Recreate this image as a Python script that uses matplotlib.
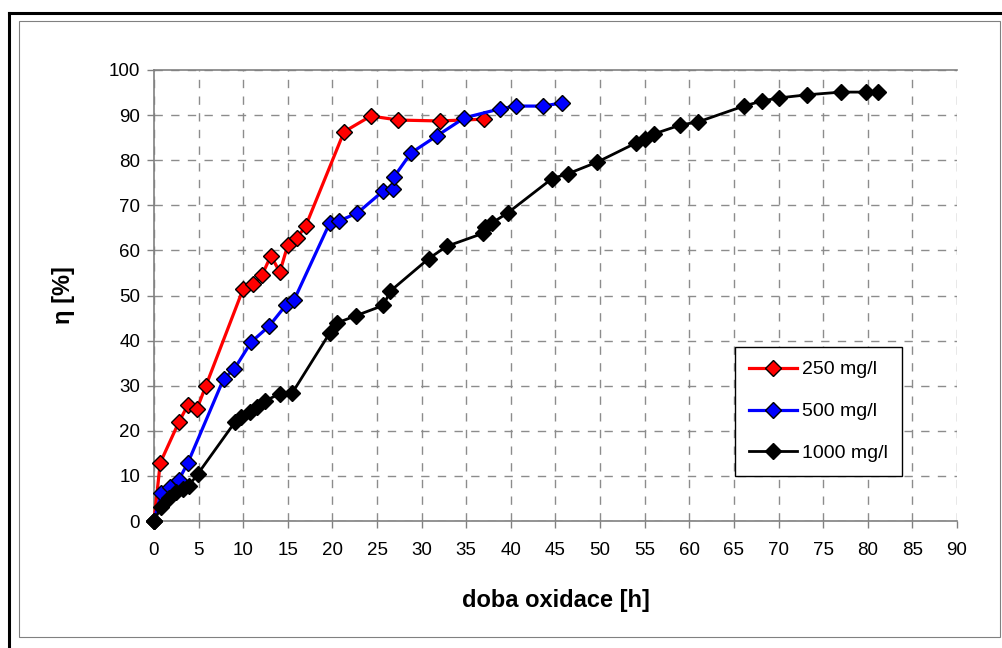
import matplotlib
matplotlib.use("Agg")
import matplotlib.pyplot as plt
from matplotlib.patches import Rectangle
from matplotlib.lines import Line2D

plt.rcParams['font.family'] = ['Liberation Sans', 'DejaVu Sans']

# 250 mg/l
x250 = [0, 0.7, 2.8, 3.8, 4.8, 5.8, 10.0, 11.1, 12.1, 13.1, 14.1, 15.0, 16.0, 17.0, 21.3, 24.3, 27.4, 32.0, 37.0]
y250 = [0, 12.9, 22.0, 25.7, 24.8, 29.9, 51.5, 52.5, 54.5, 58.8, 55.2, 61.2, 62.7, 65.4, 86.3, 89.8, 88.9, 88.7, 89.1]

# 500 mg/l
x500 = [0, 0.8, 1.8, 2.8, 3.8, 7.8, 9.0, 10.9, 12.9, 14.8, 15.7, 19.7, 20.7, 22.8, 25.7, 26.8, 26.9, 28.8, 31.7, 34.8, 38.8, 40.6, 43.6, 45.7]
y500 = [0, 6.2, 7.6, 9.2, 12.9, 31.5, 33.7, 39.7, 43.2, 47.9, 49.0, 66.1, 66.5, 68.3, 73.2, 73.6, 76.3, 81.6, 85.4, 89.4, 91.4, 92.0, 92.0, 92.7]

# 1000 mg/l
x1000 = [0, 0.8, 1.7, 2.5, 3.2, 3.9, 4.9, 9.1, 9.7, 10.8, 11.5, 12.4, 14.1, 15.5, 19.7, 20.5, 22.6, 25.7, 26.5, 30.8, 32.8, 36.9, 37.1, 37.9, 39.7,
         44.6, 46.4, 49.7, 54.0, 55.0, 56.0, 59.0, 61.0, 66.1, 68.1, 70.0, 73.2, 77.0, 79.8, 81.1]
y1000 = [0, 3.1, 5.2, 6.4, 7.2, 7.8, 10.4, 22.0, 23.1, 24.2, 25.3, 26.6, 28.2, 28.4, 41.7, 43.9, 45.5, 47.8, 51.0, 58.2, 60.9, 63.8, 65.2, 66.1, 68.4,
         75.9, 77.0, 79.6, 83.8, 84.7, 85.8, 87.8, 88.5, 92.0, 93.1, 93.8, 94.5, 95.1, 95.1, 95.1]

labels = ['250 mg/l', '500 mg/l', '1000 mg/l']
colors = ['#ff0000', '#0000ff', '#000000']

fig = plt.figure(figsize=(10.03, 6.48), dpi=100)
ax = fig.add_axes([154/1003, 1 - 521/648, (957-154)/1003, (521-70)/648])

series = [(x250, y250), (x500, y500), (x1000, y1000)]
lws = [2.3, 2.3, 2.0]
for (xs, ys), c, lab, lw in zip(series, colors, labels, lws):
    ax.plot(xs, ys, color=c, lw=lw, marker='D', ms=8.5, mfc=c, mec='black', mew=1.0,
            label=lab, clip_on=False, zorder=3)

ax.set_xlim(0, 90)
ax.set_ylim(0, 100)
ax.set_xticks(range(0, 91, 5))
ax.set_yticks(range(0, 101, 10))
ax.tick_params(axis='both', labelsize=13.5, color='#808080', length=5, width=1, direction='out')
ax.tick_params(axis='x', pad=10)
ax.tick_params(axis='y', pad=5)
ax.grid(True, color='#8c8c8c', linestyle=(0, (6, 6)), linewidth=1)
for s in ['left', 'bottom', 'top']:
    ax.spines[s].set_color('#808080')
    ax.spines[s].set_linewidth(1.2)
ax.spines['right'].set_visible(False)

ax.set_xlabel('doba oxidace [h]', fontsize=17, fontweight='bold', labelpad=22)
ax.set_ylabel('η [%]', fontsize=17, fontweight='bold', labelpad=24)

leg = ax.legend(loc='lower left', bbox_to_anchor=(0.7235, 0.10), fontsize=14, frameon=True,
                fancybox=False, edgecolor='black', framealpha=1, labelspacing=1.25,
                handlelength=2.5, handletextpad=0.25, borderpad=0.7, borderaxespad=0)
leg.get_frame().set_linewidth(1.0)

# Outer frames
fig.add_artist(Rectangle((19/1003, 1 - 637/648), (1000-19)/1003, (637-21)/648,
                         transform=fig.transFigure, fill=False, edgecolor='#808080', lw=0.8))
fig.add_artist(Line2D([9/1003, 9/1003], [0, 1 - 13/648], transform=fig.transFigure, color='black', lw=2.2))
fig.add_artist(Line2D([9/1003, 1], [1 - 13/648, 1 - 13/648], transform=fig.transFigure, color='black', lw=2.2))

fig.savefig('out.png', dpi=100)
